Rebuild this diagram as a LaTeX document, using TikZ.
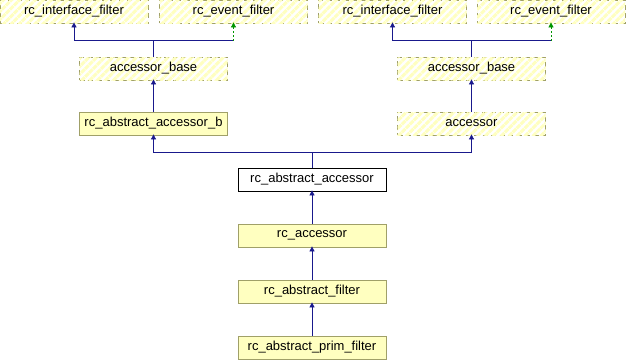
\documentclass[tikz,border=0pt]{standalone}
\usepackage{fontspec}
\setmainfont{Liberation Sans}
\usetikzlibrary{arrows.meta,patterns.meta}
\definecolor{boxfill}{RGB}{255,255,192}
\definecolor{boxline}{RGB}{160,160,104}
\definecolor{edgeblue}{RGB}{25,25,140}
\definecolor{edgegreen}{RGB}{0,150,0}
\tikzset{
  cls/.style={rectangle, minimum width=148pt, minimum height=23pt, inner sep=0pt,
    font=\fontsize{13pt}{15pt}\selectfont, line width=0.8pt},
  solidbox/.style={cls, draw=boxline, fill=boxfill},
  plainbox/.style={cls, draw=black, fill=white},
  hatchbox/.style={cls, draw=boxline, dash pattern=on 5pt off 3.5pt, fill=white,
    postaction={pattern={Lines[angle=45,distance=5.6pt,line width=3pt]}, pattern color=boxfill}},
  edge/.style={draw=edgeblue, line width=0.8pt, -{Triangle[length=5pt,width=5pt]}},
  seg/.style={draw=edgeblue, line width=0.8pt},
  gedge/.style={draw=edgegreen, line width=0.8pt, dash pattern=on 2pt off 2pt, -{Triangle[length=5pt,width=5pt]}},
}
\begin{document}
\begin{tikzpicture}[x=1pt,y=-1pt]
\useasboundingbox (0,0) rectangle (626,360);
% nodes
\node[hatchbox] (lif) at (74,11.5) {rc\_interface\_filter};
\node[hatchbox] (lef) at (233.5,11.5) {rc\_event\_filter};
\node[hatchbox] (rif) at (392.5,11.5) {rc\_interface\_filter};
\node[hatchbox] (ref) at (551,11.5) {rc\_event\_filter};
\node[hatchbox] (lab) at (153.5,68.5) {accessor\_base};
\node[hatchbox] (rab) at (471.5,68.5) {accessor\_base};
\node[solidbox] (raab) at (153.5,123.5) {rc\_abstract\_accessor\_b};
\node[hatchbox] (acc) at (471.5,123.5) {accessor};
\node[plainbox] (raa) at (312,179.5) {rc\_abstract\_accessor};
\node[solidbox] (rca) at (312,235.5) {rc\_accessor};
\node[solidbox] (raf) at (312,291.5) {rc\_abstract\_filter};
\node[solidbox] (rapf) at (312,347.5) {rc\_abstract\_prim\_filter};
% junctions
\coordinate (jl) at (153.5,40.5);
\coordinate (jle) at (233.5,40.5);
\coordinate (jr) at (471.5,40.5);
\coordinate (jre) at (551,40.5);
\coordinate (jm) at (312,152.5);
% edges
\draw[seg] (lab.north) -- (jl);
\draw[edge] (jl) -| ([yshift=1pt]lif.south);
\draw[seg] (jl) -- (jle);
\draw[gedge] (jle) -- ([yshift=1pt]lef.south);
\draw[seg] (rab.north) -- (jr);
\draw[edge] (jr) -| ([yshift=1pt]rif.south);
\draw[seg] (jr) -- (jre);
\draw[gedge] (jre) -- ([yshift=1pt]ref.south);
\draw[edge] (raab.north) -- ([yshift=1pt]lab.south);
\draw[edge] (acc.north) -- ([yshift=1pt]rab.south);
\draw[seg] (raa.north) -- (jm);
\draw[edge] (jm) -| ([yshift=1pt]raab.south);
\draw[edge] (jm) -| ([yshift=1pt]acc.south);
\draw[edge] (rca.north) -- ([yshift=1pt]raa.south);
\draw[edge] (raf.north) -- ([yshift=1pt]rca.south);
\draw[edge] (rapf.north) -- ([yshift=1pt]raf.south);
\end{tikzpicture}
\end{document}
